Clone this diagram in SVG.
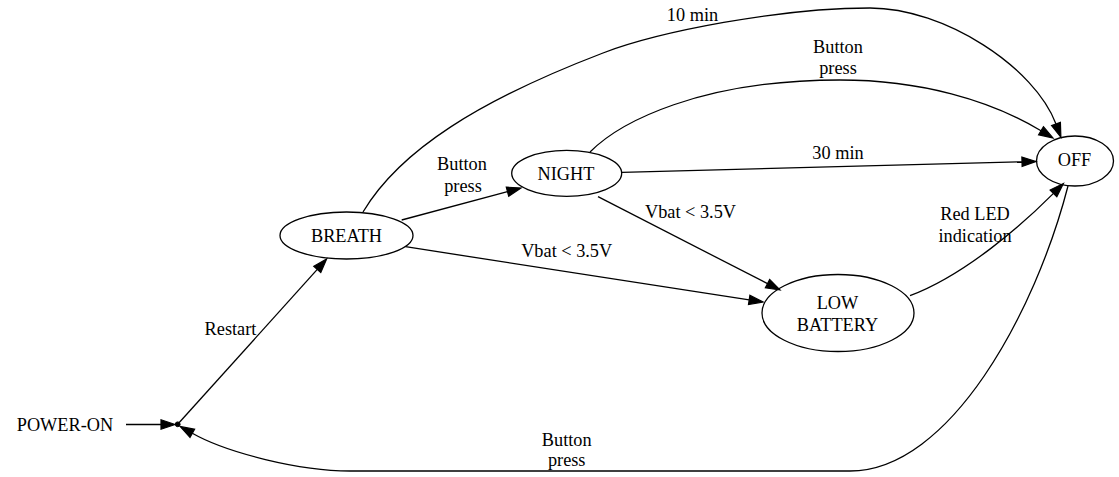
<svg xmlns="http://www.w3.org/2000/svg" width="1119" height="477" viewBox="0 0 1119 477">
<style>
  text { font-family: "Liberation Serif", "Times New Roman", serif; font-size: 18.3px; fill: #000; text-anchor: middle; }
  .node ellipse { fill: none; stroke: #000; stroke-width: 1.3; }
  .edge { fill: none; stroke: #000; stroke-width: 1.3; marker-end: url(#arrow); }
</style>
<defs>
  <marker id="arrow" viewBox="0 0 14 9.4" refX="0" refY="4.7" markerWidth="14" markerHeight="9.4" markerUnits="userSpaceOnUse" orient="auto" overflow="visible">
    <path d="M0,0 L14,4.7 L0,9.4 z" fill="#000" stroke="#000" stroke-width="1.2"/>
  </marker>
</defs>
<rect width="1119" height="477" fill="#fff"/>

<g id="connectors">
  <path class="edge" d="M126,424.5 L161,424.5"/>
  <path class="edge" d="M177.7,424.3 L317.3,269.4"/>
  <text x="230.5" y="335">Restart</text>

  <path class="edge" d="M401.7,220 L507.5,191.7"/>
  <text x="462" y="170">Button</text>
  <text x="463" y="192">press</text>

  <path class="edge" d="M363,212 C400,150 480,100 603,53 C659,31.6 780,8 870,8 C945,8 1035,67.6 1056,124"/>
  <text x="692.5" y="21">10 min</text>

  <path class="edge" d="M590,152 C620,122 700,80 840,80 C920,80 990,100 1041,130.7"/>
  <text x="838" y="53">Button</text>
  <text x="838" y="73.5">press</text>

  <path class="edge" d="M622,172.3 L1022,161.8"/>
  <text x="838" y="158.5">30 min</text>

  <path class="edge" d="M598,196.7 L767.5,283.6"/>
  <text x="690.5" y="218">Vbat &lt; 3.5V</text>

  <path class="edge" d="M405.5,246.7 L749.2,299.9"/>
  <text x="566.7" y="256.7">Vbat &lt; 3.5V</text>

  <path class="edge" d="M910,295.7 C965,275 1022,225 1053.5,193.4"/>
  <text x="975" y="220">Red LED</text>
  <text x="975" y="241.5">indication</text>

  <path class="edge" d="M1068,186 C1035.5,312 950,471 850,471 L350,471 C300,471 227,453 192.3,433.3"/>
  <text x="566.7" y="446">Button</text>
  <text x="566.7" y="465.5">press</text>
</g>

<g id="node-poweron" class="node">
  <text x="65" y="430.5">POWER-ON</text>
</g>
<g id="node-point" class="node">
  <circle cx="177.7" cy="424.3" r="2.4" fill="#000" stroke="#000" stroke-width="1"/>
</g>
<g id="node-breath" class="node">
  <ellipse cx="346.5" cy="235.5" rx="66.5" ry="23.5"/>
  <text x="346.5" y="241.7">BREATH</text>
</g>
<g id="node-night" class="node">
  <ellipse cx="566.7" cy="173.3" rx="55" ry="23"/>
  <text x="566" y="180">NIGHT</text>
</g>
<g id="node-off" class="node">
  <ellipse cx="1075" cy="161" rx="38.5" ry="25"/>
  <text x="1074.5" y="166">OFF</text>
</g>
<g id="node-lowbattery" class="node">
  <ellipse cx="838" cy="313" rx="76" ry="38.5"/>
  <text x="837.5" y="308.5">LOW</text>
  <text x="837.5" y="330.5">BATTERY</text>
</g>
</svg>
